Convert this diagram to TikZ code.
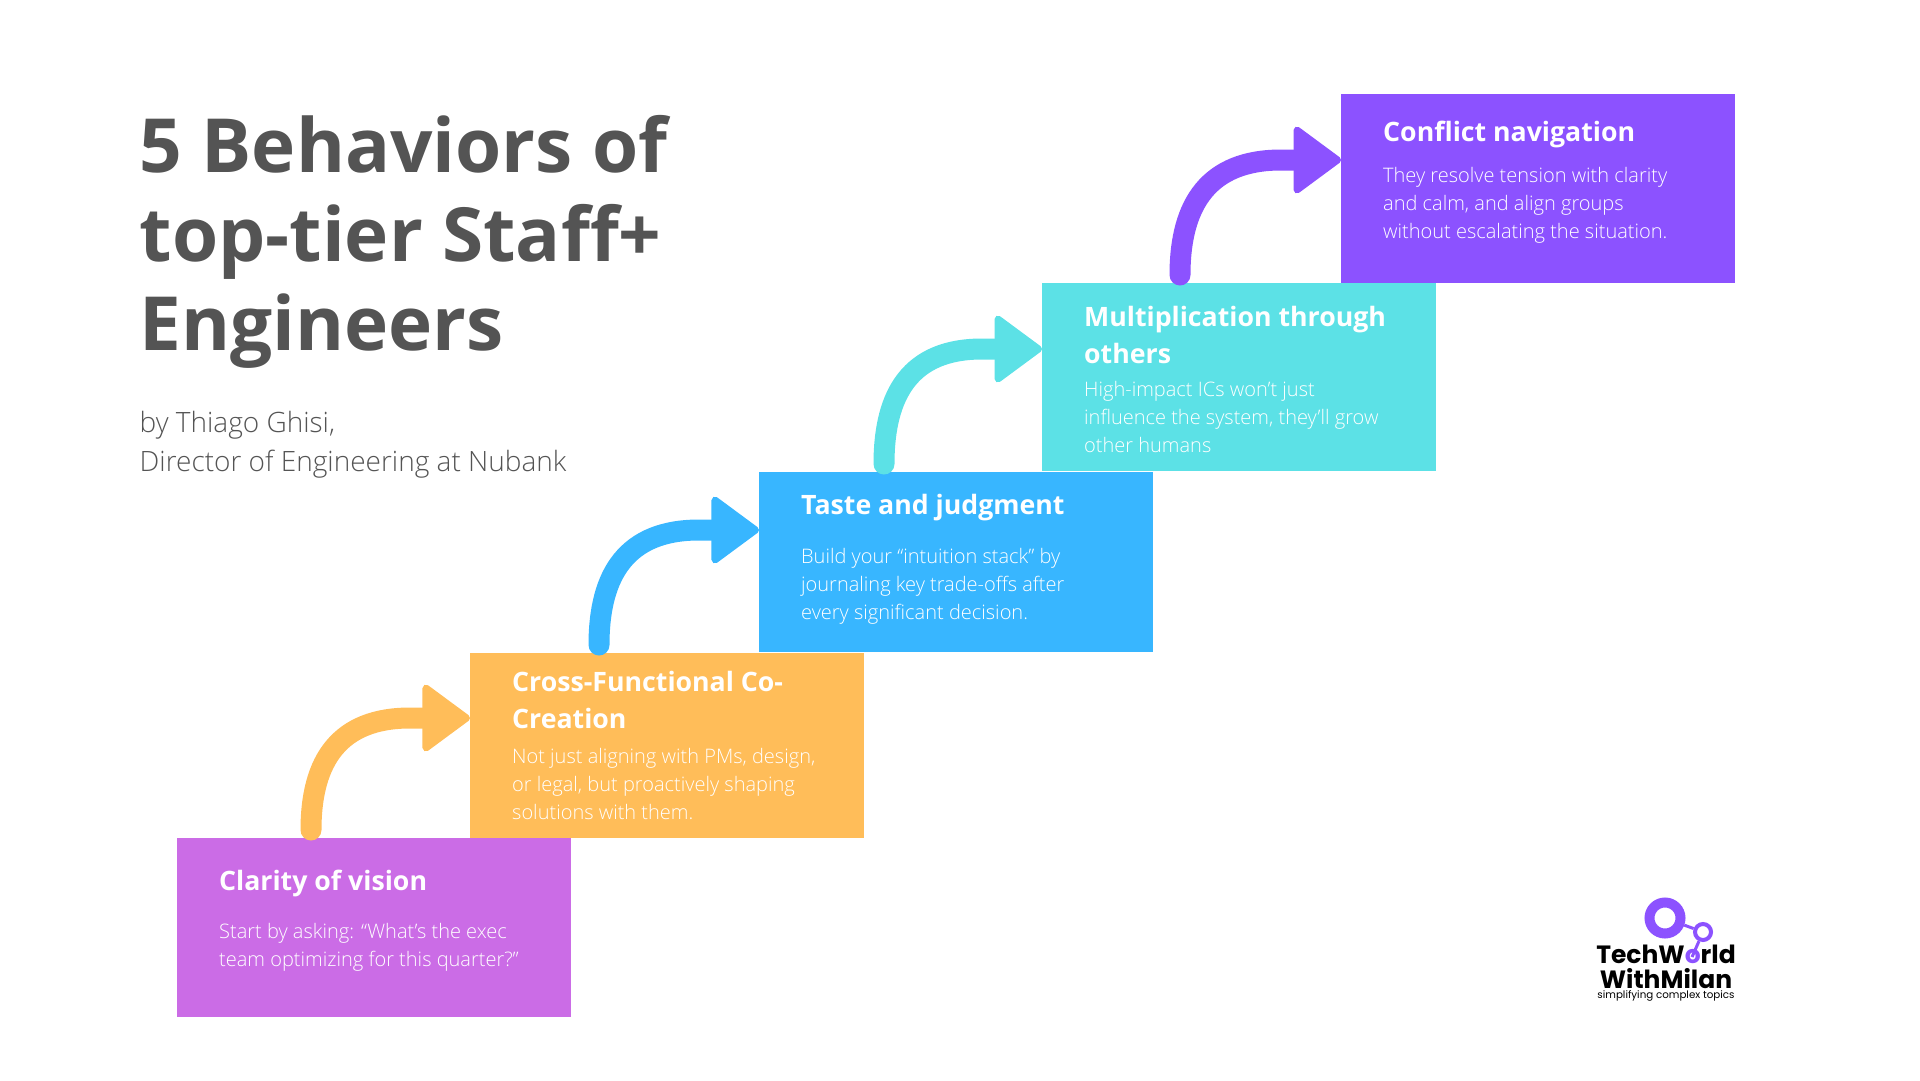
\documentclass[tikz,border=0pt]{standalone}
\usepackage{fontspec}
\setmainfont{Open Sans}
\newfontfamily\lightfont{Open Sans Light}
\newfontfamily\logofont{Poppins}
\usetikzlibrary{arrows.meta,positioning}
\definecolor{titlegray}{HTML}{545454}
\definecolor{orchidbox}{HTML}{CB6CE6}
\definecolor{orangebox}{HTML}{FFBD59}
\definecolor{bluebox}{HTML}{38B6FF}
\definecolor{tealbox}{HTML}{5CE1E6}
\definecolor{violetbox}{HTML}{8C52FF}
\tikzset{
  stepbox/.style={anchor=north west,minimum width=394pt,inner sep=0pt},
  steptitle/.style={anchor=north west,inner sep=0pt,align=left,text=white,
    font={\fontsize{26.7}{36.7}\selectfont\bfseries}},
  stepbody/.style={anchor=north west,inner sep=0pt,align=left,text=white,
    font={\lightfont\fontsize{20}{28}\selectfont}},
  steparrow/.style={line width=21pt,line cap=round,looseness=1.2,
    -{Triangle[length=50pt,width=72pt,round,line width=7pt]}},
}
\begin{document}
\begin{tikzpicture}[x=1pt,y=-1pt]
  \useasboundingbox (0,0) rectangle (1920,1080);
  % heading
  \node (heading) [anchor=north west,inner sep=0pt,align=left,text=titlegray,
    font={\fontsize{74.7}{89}\selectfont\bfseries}] at (139.5,115)
    {5 Behaviors of\\top-tier Staff+\\Engineers};
  \node (byline) [anchor=north west,inner sep=0pt,align=left,text=titlegray,
    font={\lightfont\fontsize{28}{39}\selectfont}] at (139.5,411)
    {by Thiago Ghisi,\\Director of Engineering at Nubank};
  % stair boxes
  \node (vision) [stepbox,fill=orchidbox,minimum height=179pt] at (177,838) {};
  \node (cocreate) [stepbox,fill=orangebox,minimum height=184.5pt] at (470,653) {};
  \node (taste) [stepbox,fill=bluebox,minimum height=180pt] at (759,472) {};
  \node (multiply) [stepbox,fill=tealbox,minimum height=188pt] at (1042,283) {};
  \node (conflict) [stepbox,fill=violetbox,minimum height=189pt] at (1341,94) {};
  % box texts
  \node (visionhead) [steptitle] at ([shift={(42,32)}]vision.north west) {Clarity of vision};
  \node (visiontext) [stepbody] at ([shift={(42,85)}]vision.north west)
    {Start by asking: “What’s the exec\\team optimizing for this quarter?”};
  \node (cocreatehead) [steptitle] at ([shift={(42,18.5)}]cocreate.north west) {Cross-Functional Co-\\Creation};
  \node (cocreatetext) [stepbody] at ([shift={(42,95)}]cocreate.north west)
    {Not just aligning with PMs, design,\\or legal, but proactively shaping\\solutions with them.};
  \node (tastehead) [steptitle] at ([shift={(42,22)}]taste.north west) {Taste and judgment};
  \node (tastetext) [stepbody] at ([shift={(42,76)}]taste.north west)
    {Build your “intuition stack” by\\journaling key trade-offs after\\every significant decision.};
  \node (multiplyhead) [steptitle] at ([shift={(42,23)}]multiply.north west) {Multiplication through\\others};
  \node (multiplytext) [stepbody] at ([shift={(42,98)}]multiply.north west)
    {High-impact ICs won’t just\\influence the system, they’ll grow\\other humans};
  \node (conflicthead) [steptitle] at ([shift={(42,27)}]conflict.north west) {Conflict navigation};
  \node (conflicttext) [stepbody] at ([shift={(42,73.5)}]conflict.north west)
    {They resolve tension with clarity\\and calm, and align groups\\without escalating the situation.};
  % arrow ends
  \coordinate (visionout) at ([shift={(134,-8)}]vision.north west);
  \coordinate (cocreatein) at ([yshift=-65pt]cocreate.north west);
  \coordinate (cocreatebend) at ([xshift=-60pt]cocreatein);
  \coordinate (cocreateout) at ([shift={(129,-8)}]cocreate.north west);
  \coordinate (tastein) at ([yshift=-58pt]taste.north west);
  \coordinate (tastebend) at ([xshift=-60pt]tastein);
  \coordinate (tasteout) at ([shift={(125,-8)}]taste.north west);
  \coordinate (multiplyin) at ([yshift=-66pt]multiply.north west);
  \coordinate (multiplybend) at ([xshift=-60pt]multiplyin);
  \coordinate (multiplyout) at ([shift={(138,-8)}]multiply.north west);
  \coordinate (conflictin) at ([yshift=-66pt]conflict.north west);
  \coordinate (conflictbend) at ([xshift=-60pt]conflictin);
  % arrows up the stairs
  \draw[steparrow,orangebox] (visionout) to[out=90,in=180] (cocreatebend) -- (cocreatein);
  \draw[steparrow,bluebox] (cocreateout) to[out=90,in=180] (tastebend) -- (tastein);
  \draw[steparrow,tealbox] (tasteout) to[out=90,in=180] (multiplybend) -- (multiplyin);
  \draw[steparrow,violetbox] (multiplyout) to[out=90,in=180] (conflictbend) -- (conflictin);
  % logo
  \node (logoname) [anchor=north,inner sep=0pt,align=center,
    font={\logofont\fontsize{25}{24.5}\selectfont\bfseries}] at (1666,945)
    {TechW\textcolor{violetbox}{o}rld\\WithMilan};
  \node (logotag) [inner sep=0pt,below=2pt of logoname.south,
    font={\logofont\fontsize{10.3}{11}\selectfont}] {simplifying complex topics};
  \node (logoring) [circle,draw=violetbox,line width=10pt,minimum size=31pt,inner sep=0pt] at (1665,918) {};
  \node (logodot) [circle,draw=violetbox,line width=4pt,minimum size=16pt,inner sep=0pt] at (1703,932) {};
  \coordinate (logoo) at (1692,957);
  \draw[violetbox,line width=3pt] (logoring) -- (logodot) -- (logoo);
\end{tikzpicture}
\end{document}
